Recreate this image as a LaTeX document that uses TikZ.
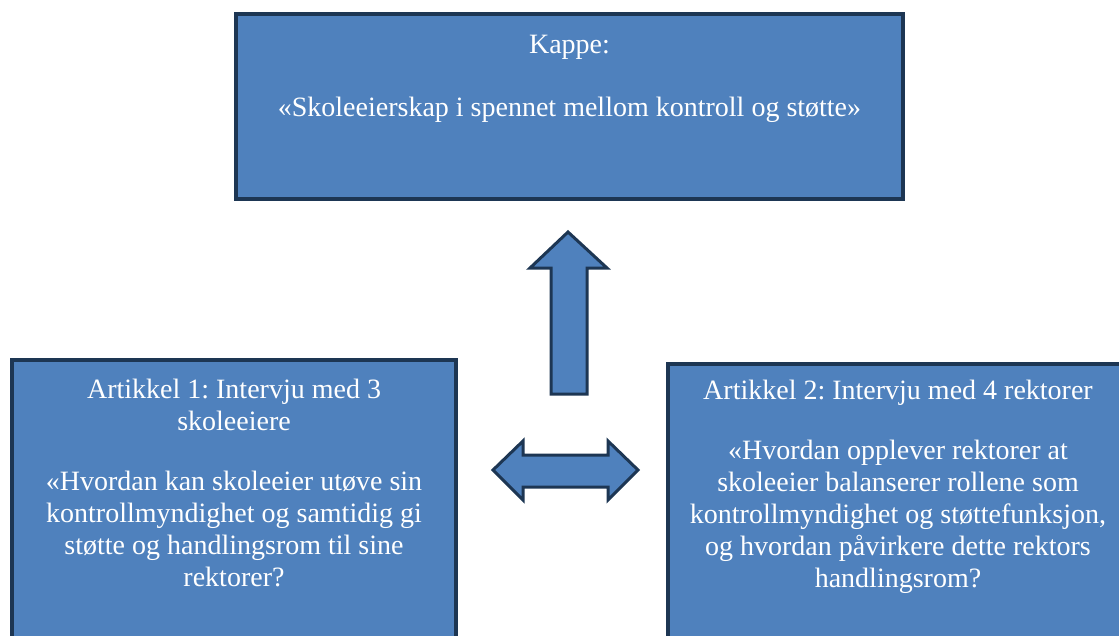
\documentclass[tikz,border=0pt]{standalone}
\usepackage{fontspec}
\setmainfont{Liberation Serif}
\frenchspacing
\definecolor{boxblue}{HTML}{4F81BD}
\definecolor{boxline}{HTML}{1D3653}
\begin{document}
\begin{tikzpicture}[x=1pt, y=-1pt, font=\fontsize{28}{32}\selectfont,
  panel/.style={draw=boxline, line width=4pt, fill=boxblue, inner sep=0pt},
  words/.style={text=white, align=center, inner sep=0pt, anchor=north},
  blockarrow/.style={draw=boxline, line width=3pt, fill=boxblue, line join=miter}]
\useasboundingbox (0,0) rectangle (1119,635);
\clip (0,0) rectangle (1119,635);
% the three panels
\node[panel, minimum width=667pt, minimum height=185pt] (kappe) at (569.5,106.5) {};
\node[panel, minimum width=444pt, minimum height=300pt] (art1) at (234,510) {};
\node[panel, minimum width=460pt, minimum height=300pt] (art2) at (898,514) {};
% panel texts
\node[words] (kappetxt) at (569.5,35) {Kappe:\\[31pt]«Skoleeierskap i spennet mellom kontroll og støtte»};
\node[words] (art1txt) at (234,379) {Artikkel 1: Intervju med 3\\skoleeiere\\[28pt]«Hvordan kan skoleeier utøve sin\\kontrollmyndighet og samtidig gi\\støtte og handlingsrom til sine\\rektorer?};
\node[words] (art2txt) at (898,380) {Artikkel 2: Intervju med 4 rektorer\\[28pt]«Hvordan opplever rektorer at\\skoleeier balanserer rollene som\\kontrollmyndighet og støttefunksjon,\\og hvordan påvirkere dette rektors\\handlingsrom?};
% block arrows
\draw[blockarrow] (551,394) -- (551,268) -- (530,268) -- (568,232) -- (607,268)
  -- (587,268) -- (587,394) -- cycle;
\draw[blockarrow] (493,470) -- (523,441) -- (523,455) -- (608,455) -- (608,441)
  -- (638,470) -- (608,500) -- (608,487) -- (523,487) -- (523,500) -- cycle;
\end{tikzpicture}
\end{document}
